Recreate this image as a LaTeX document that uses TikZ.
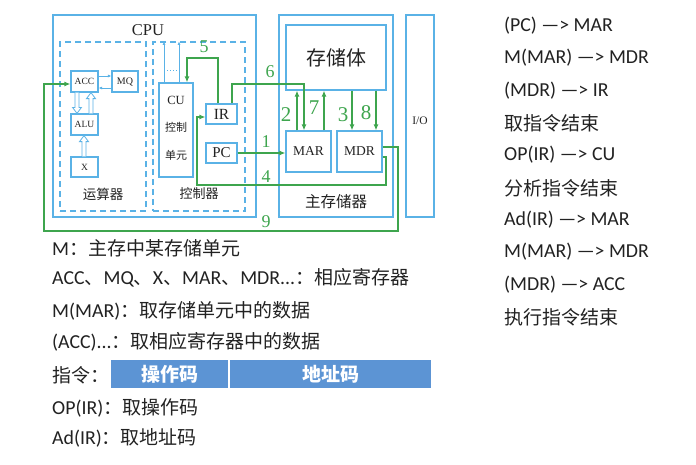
\documentclass[tikz,border=0pt]{standalone}
\usepackage{fontspec}
\setmainfont{Carlito}
\newfontfamily\cjk{Noto Sans CJK SC}
\newfontfamily\tms{Liberation Serif}
\usetikzlibrary{arrows.meta,calc}

\definecolor{boxblue}{RGB}{90,178,230}
\definecolor{flow}{RGB}{62,165,78}
\definecolor{cellblue}{RGB}{92,148,212}
\definecolor{ink}{RGB}{34,34,34}

\newcommand\fs[1]{\fontsize{#1}{#1}\selectfont}
\newcommand\zh[1]{{\cjk\fs{19}#1}}

% hollow (outline) arrows of the arithmetic unit: x position, start, end
\newcommand\hollowdown[3]{%
  \draw[hollow] let \p1=(#1,0 |- #2), \p2=(#1,0 |- #3) in
    (\x1-2pt,\y1) -- (\x1-2pt,\y2+6pt) -- (\x1-4.5pt,\y2+6pt) -- (\x1,\y2)
    -- (\x1+4.5pt,\y2+6pt) -- (\x1+2pt,\y2+6pt) -- (\x1+2pt,\y1);}
\newcommand\hollowup[3]{%
  \draw[hollow] let \p1=(#1,0 |- #2), \p2=(#1,0 |- #3) in
    (\x1-2pt,\y1) -- (\x1-2pt,\y2-6pt) -- (\x1-4.5pt,\y2-6pt) -- (\x1,\y2)
    -- (\x1+4.5pt,\y2-6pt) -- (\x1+2pt,\y2-6pt) -- (\x1+2pt,\y1);}

\tikzset{
  unit/.style={draw=boxblue, line width=1.2pt, inner sep=0pt, font=\tms, text=ink},
  region/.style={draw=boxblue, line width=1.1pt, dash pattern=on 6pt off 4pt, inner sep=0pt},
  frame/.style={draw=boxblue, line width=1.6pt, inner sep=0pt},
  bus/.style={draw=flow, line width=1.9pt, -{Latex[length=6pt,width=5pt]}},
  busnum/.style={text=flow, inner sep=0pt, font=\tms\fs{18}},
  busnumbig/.style={text=flow, inner sep=0pt, font=\tms\fs{21}},
  thinlink/.style={draw=boxblue, line width=0.8pt, -{Latex[length=3.5pt,width=3pt]}},
  hollow/.style={draw=boxblue, line width=0.8pt, fill=white},
  caption/.style={text=ink, inner sep=0pt},
  txt/.style={anchor=west, text=ink, font=\fs{19.8}, inner sep=0pt},
  cell/.style={fill=cellblue, draw=white, line width=1.2pt, minimum height=30pt,
    inner sep=0pt, text=white, font=\cjk\bfseries\fs{19}},
}

\begin{document}
\begin{tikzpicture}[x=1pt,y=-1pt]
\useasboundingbox (0,0) rectangle (696,464);
\fill[white] (0,0) rectangle (696,464);

% ---- CPU ----
\node[frame, minimum width=203pt, minimum height=202pt] (cpu) at (154.5,116) {};
\node[caption, font=\tms\fs{16.5}] (cputitle) at (148,30) {CPU};
\node[region, minimum width=86pt, minimum height=169pt] (alureg) at (103,126.5) {};
\node[region, minimum width=92pt, minimum height=169pt] (cureg) at (199,126.5) {};
\node[caption, font=\cjk\fs{13.5}] (alutitle) at (103,194) {运算器};
\node[caption, font=\cjk\fs{13}] (cutitle) at (199,194) {控制器};

\node[unit, minimum width=27pt, minimum height=21pt, font=\tms\fs{9.5}] (acc) at (84.5,81.5) {ACC};
\node[unit, minimum width=26pt, minimum height=21pt, font=\tms\fs{10}] (mq) at (125,81.5) {MQ};
\node[unit, minimum width=27pt, minimum height=21pt, font=\tms\fs{9.5}] (alu) at (84.5,124.5) {ALU};
\node[unit, minimum width=27pt, minimum height=20pt, font=\tms\fs{9.5}] (x) at (84.5,167) {X};

\draw[thinlink] (acc.east |- 0,76) -- (mq.west |- 0,76);
\draw[thinlink] (mq.west |- 0,88) -- (acc.east |- 0,88);
\hollowdown{77}{acc.south}{alu.north}
\hollowup{91}{alu.north}{acc.south}
\hollowup{84}{x.north}{alu.south}

\node[unit, minimum width=34pt, minimum height=94pt] (cu) at (176,130) {};
\node[caption, font=\tms\fs{12.5}] (cuname) at (176,100) {CU};
\node[caption, font=\cjk\fs{11}] (cuname2) at (176,127) {控制};
\node[caption, font=\cjk\fs{11}] (cuname3) at (176,155) {单元};
\draw[thinlink] (164,0 |- cu.north) -- (164,0 |- cureg.north);
\draw[thinlink] (179,0 |- cu.north) -- (179,0 |- cureg.north);
\draw[boxblue, line width=1pt, dotted] (167,70) -- (177,70);

\node[unit, minimum width=31pt, minimum height=20pt, font=\tms\fs{15.5}] (ir) at (221.5,114) {IR};
\node[unit, minimum width=31pt, minimum height=20pt, font=\tms\fs{15}] (pc) at (221.5,153) {PC};

% ---- main memory ----
\node[frame, minimum width=114pt, minimum height=202pt] (mm) at (336,116) {};
\node[unit, minimum width=100pt, minimum height=65pt, font=\cjk\fs{20}] (mem) at (336,57.5) {存储体};
\node[unit, minimum width=45pt, minimum height=41pt, font=\tms\fs{13.5}] (mar) at (308.5,151.5) {MAR};
\node[unit, minimum width=45pt, minimum height=41pt, font=\tms\fs{13.5}] (mdr) at (359.5,151.5) {MDR};
\node[caption, font=\cjk\fs{15.5}] (mmtitle) at (336,202) {主存储器};

% ---- I/O ----
\node[frame, minimum width=28pt, minimum height=202pt] (io) at (420,116) {};
\node[caption, font=\tms\fs{11.5}] (iotitle) at (420,121) {I/O};

% ---- data paths ----
\draw[bus] (pc.east) -- (pc.east -| mar.west);
\draw[bus] (297,0 |- mar.north) -- (297,0 |- mem.south);
\draw[bus] (352,0 |- mem.south) -- (352,0 |- mdr.north);
\draw[bus] (mdr.east |- 0,157) -- (386,157) -- (386,185) -- (197,185) -- (197,117) -- (ir.west |- 0,117);
\draw[bus] (218,0 |- ir.north) -- (218,58) -- (187,58) -- (187,0 |- cu.north);
\draw[bus] (232,0 |- ir.north) -- (232,84) -- (304,84) -- (304,0 |- mar.north);
\draw[bus] (324,0 |- mar.north) -- (324,0 |- mem.south);
\draw[bus] (376,0 |- mem.south) -- (376,0 |- mdr.north);
\draw[bus] (mdr.east |- 0,147) -- (398,147) -- (398,231) -- (44,231) -- (44,84) -- (acc.west |- 0,84);

\node[busnum] (n1) at (266,142) {1};
\node[busnumbig] (n2) at (286,115) {2};
\node[busnumbig] (n3) at (343,115) {3};
\node[busnum] (n4) at (266,177) {4};
\node[busnum] (n5) at (204,47) {5};
\node[busnum] (n6) at (270,72) {6};
\node[busnumbig] (n7) at (314,108) {7};
\node[busnumbig] (n8) at (366,113) {8};
\node[busnum] (n9) at (266,222) {9};

% ---- notes ----
\node[txt] (r1) at (504,26) {(PC) —> MAR};
\node[txt] (r2) at (504,58) {M(MAR) —> MDR};
\node[txt] (r3) at (504,91) {(MDR) —> IR};
\node[txt] (r4) at (504,123) {\zh{取指令结束}};
\node[txt] (r5) at (504,155) {OP(IR) —> CU};
\node[txt] (r6) at (504,188) {\zh{分析指令结束}};
\node[txt] (r7) at (504,220) {Ad(IR) —> MAR};
\node[txt] (r8) at (504,252) {M(MAR) —> MDR};
\node[txt] (r9) at (504,285) {(MDR) —> ACC};
\node[txt] (r10) at (504,317) {\zh{执行指令结束}};

\node[txt] (l1) at (52,248) {M\zh{：主存中某存储单元}};
\node[txt] (l2) at (52,278) {ACC\zh{、}MQ\zh{、}X\zh{、}MAR\zh{、}MDR...\zh{：相应寄存器}};
\node[txt] (l3) at (52,311) {M(MAR)\zh{：取存储单元中的数据}};
\node[txt] (l4) at (52,342) {(ACC)...\zh{：取相应寄存器中的数据}};
\node[txt] (l5) at (52,375) {\zh{指令：}};
\node[cell, minimum width=119pt] (opcode) at (169.5,374) {操作码};
\node[cell, minimum width=203pt] (addr) at (330.5,374) {地址码};
\node[txt] (l6) at (52,408) {OP(IR)\zh{：取操作码}};
\node[txt] (l7) at (52,438) {Ad(IR)\zh{：取地址码}};
\end{tikzpicture}
\end{document}
